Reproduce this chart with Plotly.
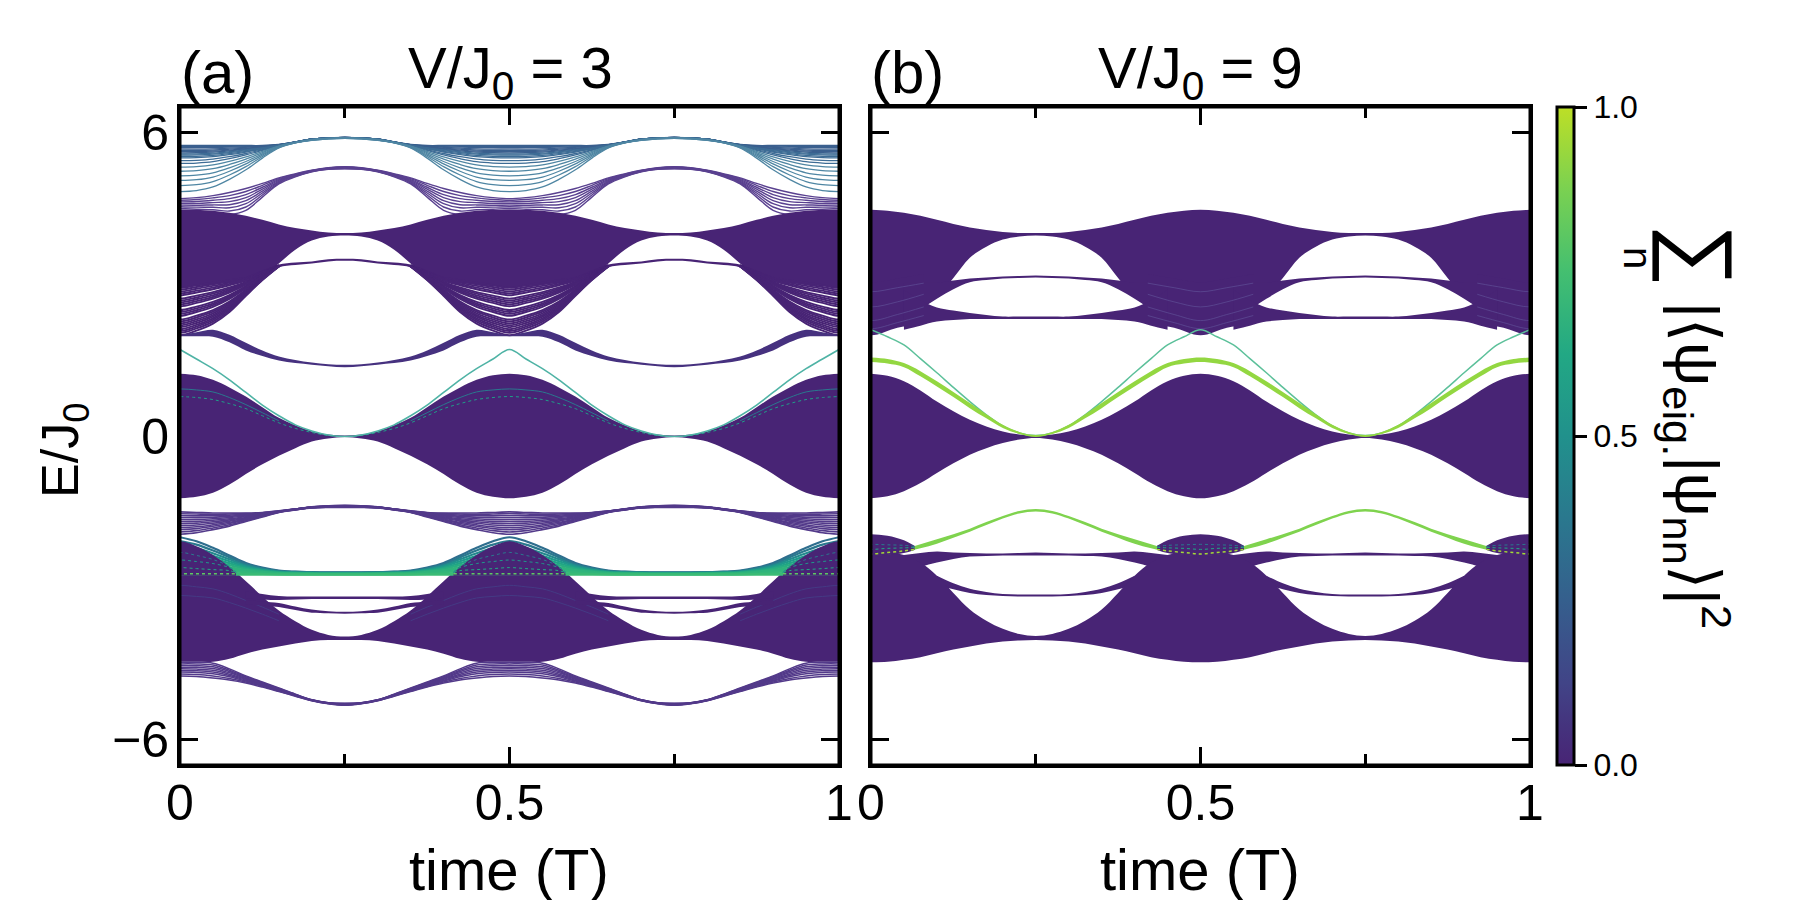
import plotly.graph_objects as go
from plotly.subplots import make_subplots

FONT = "Liberation Sans"
DARK = "#482475"
SMOOTH = 1

# time knots, first quarter period (the rest of the bands repeats by symmetry)
t_all = [0, 0.025, 0.05, 0.075, 0.1, 0.125, 0.15, 0.175, 0.2, 0.225, 0.25]
t_arch = [0.1, 0.125, 0.15, 0.175, 0.2, 0.225, 0.25]
t_arch5 = [0.05, 0.075, 0.1, 0.125, 0.15, 0.175, 0.2, 0.225, 0.25]
t_fan3 = [0, 0.025, 0.05, 0.075, 0.1, 0.125, 0.15]
t_fan3b = [0, 0.04, 0.08]
t_wedge = [0, 0.025, 0.05, 0.075, 0.085]
t_dome = [0, 0.025, 0.05, 0.066]

# panel (a), V/J0 = 3
a_top_up = [5.74, 5.74, 5.74, 5.74, 5.74, 5.74, 5.76, 5.81, 5.87, 5.89, 5.90]
a_top_lo = [4.83, 4.85, 4.92, 5.07, 5.26, 5.49, 5.69, 5.79, 5.84, 5.87, 5.88]
a_fan2_up = [4.69, 4.71, 4.75, 4.81, 4.89, 4.99, 5.10, 5.18, 5.25, 5.30, 5.32]
a_fan2_lo = [4.46, 4.44, 4.42, 4.38, 4.46, 4.72, 4.98, 5.12, 5.22, 5.27, 5.28]
a_main_up = [4.47, 4.47, 4.45, 4.41, 4.35, 4.27, 4.18, 4.11, 4.06, 4.02, 4.01]
a_main_lo = [2.93, 2.96, 2.99, 3.03, 3.09, 3.15, 3.41, 3.68, 3.86, 3.94, 3.96]
a_sub_up = [3.09, 3.25, 3.39, 3.43, 3.45, 3.49, 3.50]
a_sub_lo = [2.77, 3.08, 3.33, 3.38, 3.41, 3.45, 3.46]
a_fan3_up = [2.93, 2.98, 3.03, 3.08, 3.13, 3.25, 3.37]
a_fan3_lo = [1.99, 2.08, 2.22, 2.45, 2.77, 3.08, 3.35]
a_thin_up = [1.99, 2.05, 2.10, 2.00, 1.84, 1.69, 1.57, 1.50, 1.45, 1.42, 1.41]
a_thin_lo = [1.97, 1.97, 1.96, 1.85, 1.69, 1.58, 1.49, 1.44, 1.41, 1.38, 1.36]
a_edge = [1.71, 1.52, 1.33, 1.11, 0.86, 0.61, 0.40, 0.22, 0.10, 0.02, -0.01]
a_center_line = [0.78, 0.76, 0.72, 0.64, 0.54, 0.40, 0.26, 0.15, 0.07, 0.01, -0.01]
a_center_line2 = [0.93, 0.91, 0.87, 0.76, 0.62, 0.46, 0.30]
a_center_up = [1.23, 1.20, 1.11, 0.96, 0.78, 0.57, 0.36, 0.21, 0.09, 0.03, 0.01]
a_center_lo = [-1.23, -1.20, -1.12, -0.96, -0.75, -0.56, -0.39, -0.24, -0.11, -0.05, -0.02]
a_d_up = [-1.50, -1.51, -1.52, -1.52, -1.52, -1.51, -1.48, -1.44, -1.40, -1.38, -1.37]
a_d_lo = [-1.94, -1.91, -1.85, -1.78, -1.69, -1.60, -1.51, -1.46, -1.42, -1.41, -1.41]
a_e_up = [-2.00, -2.08, -2.21, -2.36, -2.51, -2.60, -2.66, -2.68, -2.69, -2.695, -2.695]
a_e_lo = [-2.74, -2.74, -2.74, -2.74, -2.74, -2.74, -2.74, -2.74, -2.74, -2.74, -2.74]
a_wedge_up = [-2.08, -2.18, -2.35, -2.59, -2.72]
a_wedge_lo = [-2.76, -2.76, -2.76, -2.76, -2.76]
a_spk1 = [-2.72, -2.72, -2.72, -2.72, -2.72]
a_spk2 = [-2.60, -2.62, -2.64, -2.66, -2.70]
a_spk3 = [-2.45, -2.48, -2.52, -2.60, -2.68]
a_spk4 = [-2.30, -2.36, -2.44, -2.58, -2.70]
a_block_up = [-2.45, -2.47, -2.50, -2.60, -2.87, -3.17, -3.45, -3.66, -3.83, -3.93, -3.96]
a_block_lo = [-4.46, -4.46, -4.46, -4.40, -4.30, -4.22, -4.16, -4.10, -4.05, -4.03, -4.03]
a_block_line1 = [-2.95, -2.98, -3.02, -3.12, -3.25, -3.38, -3.52]
a_block_line2 = [-3.15, -3.17, -3.20, -3.29, -3.40, -3.52, -3.65]
a_p_up = [-3.07, -3.12, -3.16, -3.17, -3.17, -3.17, -3.17]
a_p_lo = [-3.20, -3.23, -3.24, -3.23, -3.22, -3.22, -3.22]
a_q_up = [-3.24, -3.27, -3.30, -3.37, -3.43, -3.46, -3.47]
a_q_lo = [-3.33, -3.35, -3.38, -3.44, -3.49, -3.50, -3.51]
a_bot_up = [-4.47, -4.47, -4.49, -4.60, -4.74, -4.86, -4.98, -5.10, -5.21, -5.27, -5.28]
a_bot_lo = [-4.74, -4.75, -4.78, -4.82, -4.88, -4.96, -5.05, -5.14, -5.23, -5.29, -5.32]

# panel (b), V/J0 = 9
b_main_up = [4.47, 4.45, 4.41, 4.35, 4.27, 4.19, 4.12, 4.07, 4.03, 4.01, 4.01]
b_main_lo = [2.30, 2.35, 2.40, 2.52, 2.75, 3.12, 3.52, 3.74, 3.88, 3.94, 3.96]
b_fan_up = [3.03, 3.11, 3.20]
b_fan_lo = [1.99, 2.14, 2.22]
b_stripe1 = [2.85, 2.93, 3.02]
b_stripe2 = [2.55, 2.65, 2.80]
b_stripe3 = [2.28, 2.40, 2.55]
b_stripe4 = [2.12, 2.24, 2.38]
b_sub1_up = [3.03, 3.03, 3.03, 3.07, 3.11, 3.13, 3.15, 3.16, 3.17]
b_sub1_lo = [2.30, 2.50, 2.71, 2.90, 3.04, 3.08, 3.11, 3.12, 3.13]
b_sub2_up = [2.89, 2.68, 2.54, 2.48, 2.43, 2.39, 2.36, 2.36, 2.36]
b_sub2_lo = [2.10, 2.18, 2.26, 2.29, 2.31, 2.31, 2.31, 2.31, 2.31]
b_edge = [2.10, 1.96, 1.80, 1.53, 1.25, 0.96, 0.68, 0.42, 0.20, 0.06, 0.01]
b_green_up = [1.55, 1.52, 1.44, 1.28, 1.08, 0.87, 0.65, 0.43, 0.22, 0.08, 0.02]
b_green_lo = [1.46, 1.43, 1.36, 1.18, 0.98, 0.77, 0.55, 0.35, 0.16, 0.04, -0.02]
b_center_up = [1.23, 1.19, 1.08, 0.90, 0.68, 0.49, 0.32, 0.19, 0.09, 0.03, 0.01]
b_center_lo = [-1.23, -1.19, -1.09, -0.93, -0.73, -0.54, -0.37, -0.24, -0.14, -0.07, -0.04]
b_arch_up = [-2.31, -2.28, -2.23, -2.14, -2.04, -1.94, -1.83, -1.70, -1.58, -1.48, -1.44]
b_arch_lo = [-2.37, -2.34, -2.29, -2.22, -2.13, -2.01, -1.89, -1.76, -1.63, -1.53, -1.49]
b_dome_up = [-1.94, -1.97, -2.06, -2.17]
b_dome_lo = [-2.38, -2.35, -2.31, -2.25]
b_spk1 = [-2.33, -2.30, -2.27, -2.24]
b_spk2 = [-2.24, -2.22, -2.21, -2.20]
b_spk3 = [-2.14, -2.15, -2.16, -2.18]
b_thin1_up = [-2.38, -2.36, -2.35, -2.31, -2.28, -2.30, -2.31, -2.32, -2.32, -2.31, -2.30]
b_thin1_lo = [-2.60, -2.61, -2.62, -2.58, -2.50, -2.43, -2.38, -2.37, -2.36, -2.36, -2.36]
b_thin2_up = [-2.76, -2.91, -3.02, -3.08, -3.12, -3.13, -3.13]
b_thin2_lo = [-2.94, -3.03, -3.10, -3.14, -3.16, -3.17, -3.17]
b_block_up = [-2.25, -2.30, -2.35, -2.50, -2.76, -3.10, -3.43, -3.65, -3.81, -3.91, -3.95]
b_block_lo = [-4.47, -4.46, -4.42, -4.37, -4.29, -4.22, -4.16, -4.10, -4.06, -4.04, -4.03]

# where the separate levels of each fan sit between its two edges
top_levels = [0, 0.025, 0.05, 0.08, 0.11, 0.135, 0.16, 0.185, 0.21, 0.24, 0.27, 0.33, 0.39, 0.47, 0.56, 0.66,
              0.76, 0.87, 1]
fan2_levels = [0, 0.14, 0.28, 0.42, 0.56, 0.7, 0.85, 1]
fan3_levels = [0, 0.04, 0.08, 0.12, 0.16, 0.23, 0.27, 0.31, 0.35, 0.39, 0.47, 0.51, 0.55, 0.59,
               0.67, 0.71, 0.75, 0.79, 0.83, 0.87, 0.91, 0.95, 1]
d_levels = [0, 0.08, 0.17, 0.26, 0.35, 0.44, 0.53, 0.62, 0.71, 0.8, 0.9, 1]
bot_levels = [0, 0.12, 0.24, 0.36, 0.48, 0.6, 0.72, 0.86, 1]
e_levels = [0, 0.1, 0.2, 0.3, 0.4, 0.5, 0.6, 0.7, 0.8, 0.9, 1]
e_colors = ["#2f6e8e", "#2a788e", "#23898e", "#1f988b", "#20a486", "#27ad81",
            "#2fb47c", "#2fb47c", "#33b67a", "#37b878", "#3bbb75"]
top_colors = ["#3a5f8e"] * 7 + ["#3d6c95"] * 6 + ["#4f86a3"] * 6

cb_scale = [[0, "#482475"], [0.125, "#414487"], [0.25, "#355f8d"], [0.375, "#2a788e"],
            [0.5, "#21918c"], [0.625, "#22a884"], [0.75, "#44bf70"], [0.875, "#7ad151"],
            [1, "#bddf26"]]


# the page keeps an 8 px body margin round the fixed size figure
def px(x):
    return (x - 8) / 1800


def py(y):
    return 1 - (y - 8) / 900


def spans(t, y):
    # repeat the first quarter over the whole period
    if t[0] == 0 and t[-1] == 0.25:
        xs = list(t) + [0.5 - v for v in t[-2::-1]]
        ys = list(y) + list(y[-2::-1])
        xs = xs + [0.5 + v for v in xs[1:]]
        ys = ys + ys[1:]
        return [(xs, ys)]
    out = []
    if t[-1] == 0.25:
        for c in [0.25, 0.75]:
            out.append(([c - 0.25 + v for v in t] + [c + 0.25 - v for v in t[-2::-1]],
                        list(y) + list(y[-2::-1])))
    else:
        for c in [0, 0.5, 1]:
            out.append(([c - v for v in t[:0:-1]] + [c + v for v in t],
                        list(y[:0:-1]) + list(y)))
    return out


fig = make_subplots(rows=1, cols=2)


def line(col, t, y, color, width=1.2, dash="solid"):
    for xs, ys in spans(t, y):
        fig.add_trace(go.Scatter(x=xs, y=ys, mode="lines", showlegend=False, hoverinfo="skip",
                                 line=dict(color=color, width=width, dash=dash, shape="spline", smoothing=SMOOTH)),
                      row=1, col=col)


def band(col, t, up, lo, color=DARK):
    for (xs, yl), (_, yu) in zip(spans(t, lo), spans(t, up)):
        fig.add_trace(go.Scatter(x=xs, y=yl, mode="lines", showlegend=False, hoverinfo="skip",
                                 line=dict(width=0, shape="spline", smoothing=SMOOTH)), row=1, col=col)
        fig.add_trace(go.Scatter(x=xs, y=yu, mode="lines", showlegend=False, hoverinfo="skip",
                                 fill="tonexty", fillcolor=color,
                                 line=dict(width=0, shape="spline", smoothing=SMOOTH)), row=1, col=col)


def fan(col, t, up, lo, levels, colors, width=1.2):
    for i, f in enumerate(levels):
        y = [u + f * (l - u) for u, l in zip(up, lo)]
        c = colors[i] if isinstance(colors, list) else colors
        line(col, t, y, c, width)


# panel (a)
fan(1, t_all, a_top_up, a_top_lo, top_levels, top_colors, 1.3)
fan(1, t_all, a_fan2_up, a_fan2_lo, fan2_levels, "#5a4190", 1.4)
band(1, t_all, a_main_up, a_main_lo)
band(1, t_arch, a_sub_up, a_sub_lo)
fan(1, t_fan3, a_fan3_up, a_fan3_lo, fan3_levels, DARK, 1.9)
band(1, t_all, a_thin_up, a_thin_lo, "#46317f")
band(1, t_all, a_center_up, a_center_lo)
line(1, t_all, a_center_line, "#1f9e89", 1, "dot")
line(1, t_fan3, a_center_line2, "#2a788e", 1)
line(1, t_all, a_edge, "#4fb3a5", 1.6)
fan(1, t_all, a_d_up, a_d_lo, d_levels, "#533a8a", 1.6)
band(1, t_all, a_block_up, a_block_lo)
line(1, t_fan3, a_block_line1, "#443a84", 1)
line(1, t_fan3, a_block_line2, "#443a84", 1)
band(1, t_arch, a_p_up, a_p_lo)
band(1, t_arch, a_q_up, a_q_lo)
fan(1, t_all, a_e_up, a_e_lo, e_levels, e_colors, 2.2)
band(1, t_wedge, a_wedge_up, a_wedge_lo)
line(1, t_wedge, a_spk4, "#2a788e", 1, "dot")
line(1, t_wedge, a_spk3, "#1f988b", 1, "dot")
line(1, t_wedge, a_spk2, "#22a884", 1, "dot")
line(1, t_wedge, a_spk1, "#5ec962", 1.5, "dot")
fan(1, t_all, a_bot_up, a_bot_lo, bot_levels, "#533a8a", 1.5)

# panel (b)
band(2, t_all, b_main_up, b_main_lo)
band(2, t_fan3b, b_fan_up, b_fan_lo)
band(2, t_arch5, b_sub1_up, b_sub1_lo)
band(2, t_arch5, b_sub2_up, b_sub2_lo)
for stripe in [b_stripe1, b_stripe2, b_stripe3, b_stripe4]:
    line(2, t_fan3b, stripe, "#5f4f96", 0.7)
band(2, t_all, b_center_up, b_center_lo)
line(2, t_all, b_edge, "#5cc09a", 1.5)
band(2, t_all, b_green_up, b_green_lo, "#93d741")
band(2, t_all, b_thin1_up, b_thin1_lo)
band(2, t_arch, b_thin2_up, b_thin2_lo)
band(2, t_all, b_block_up, b_block_lo)
band(2, t_all, b_arch_up, b_arch_lo, "#7fd34e")
band(2, t_dome, b_dome_up, b_dome_lo)
line(2, t_dome, b_spk3, "#2a788e", 1, "dot")
line(2, t_dome, b_spk2, "#22a884", 1, "dot")
line(2, t_dome, b_spk1, "#a5db36", 1.5, "dot")

# only carries the colorbar
fig.add_trace(go.Scatter(x=[None], y=[None], mode="markers", showlegend=False, hoverinfo="skip",
                         marker=dict(color=[0], cmin=0, cmax=1, colorscale=cb_scale,
                                     colorbar=dict(x=px(1557), xanchor="left", xref="paper", xpad=0, ypad=0,
                                                   y=py(765), yanchor="bottom", yref="paper",
                                                   len=658 / 900, lenmode="fraction", thickness=17,
                                                   outlinewidth=3, outlinecolor="black",
                                                   tickvals=[0, 0.5, 1], ticktext=["0.0", "0.5", "1.0"],
                                                   ticks="outside", ticklen=12, tickwidth=3, tickcolor="black",
                                                   tickfont=dict(family=FONT, size=32, color="black")))),
              row=1, col=1)

axis_x = dict(range=[0, 1], tickvals=[0, 0.5, 1], ticktext=["0", "0.5", "1"], ticks="inside", ticklen=18,
              tickwidth=3, tickcolor="black", showline=True, linecolor="black", linewidth=3, mirror="allticks",
              showgrid=False, zeroline=False, layer="below traces", ticklabelstandoff=-8,
              tickfont=dict(family=FONT, size=50, color="black"),
              minor=dict(tickvals=[0.25, 0.75], ticks="inside", ticklen=11, tickwidth=3, tickcolor="black"))
axis_y = dict(range=[-6.5, 6.5], tickvals=[6, 0, -6], ticktext=["6", "0", "\u22126"], ticks="inside", ticklen=18,
              tickwidth=3, tickcolor="black", showline=True, linecolor="black", linewidth=3, mirror="allticks",
              showgrid=False, zeroline=False, layer="below traces", ticklabelstandoff=-2,
              tickfont=dict(family=FONT, size=50, color="black"))

fig.update_xaxes(**axis_x)
fig.update_yaxes(**axis_y)
fig.update_xaxes(domain=[px(180), px(839)], row=1, col=1)
fig.update_xaxes(domain=[px(871), px(1530)], row=1, col=2)
fig.update_yaxes(domain=[py(765), py(107)])
fig.update_yaxes(showticklabels=False, row=1, col=2)

# frame over the bands
for x0, x1 in [(180, 839), (871, 1530)]:
    fig.add_shape(type="rect", xref="paper", yref="paper", x0=px(x0), x1=px(x1), y0=py(765), y1=py(107),
                  line=dict(color="black", width=3), layer="above")

labels = [
    ("(a)", 217, 72, 60, 0),
    ("(b)", 907, 72, 60, 0),
    ("V/J<sub>0</sub> = 3", 510, 72, 58, 0),
    ("V/J<sub>0</sub> = 9", 1200, 72, 58, 0),
    ("time (T)", 509, 869, 58, 0),
    ("time (T)", 1200, 869, 58, 0),
    ("E/J<sub>0</sub>", 64, 451, 52, -90),
    ("\u2211", 1702, 255, 88, 90),
    ("n", 1638, 258, 40, 90),
    ("|\u27e8\u03c8<sub>eig.</sub>|\u03c8<sub>nn</sub>\u27e9|<sup>2</sup>", 1698, 465, 62, 90),
]
for text, x, y, size, angle in labels:
    fig.add_annotation(text=text, x=px(x), y=py(y), xref="paper", yref="paper", showarrow=False,
                       xanchor="center", yanchor="middle", textangle=angle,
                       font=dict(family=FONT, size=size, color="black"))

fig.update_layout(width=1800, height=900, margin=dict(l=0, r=0, t=0, b=0, autoexpand=False), paper_bgcolor="white",
                  plot_bgcolor="white", showlegend=False)
fig.write_html("out.html")
